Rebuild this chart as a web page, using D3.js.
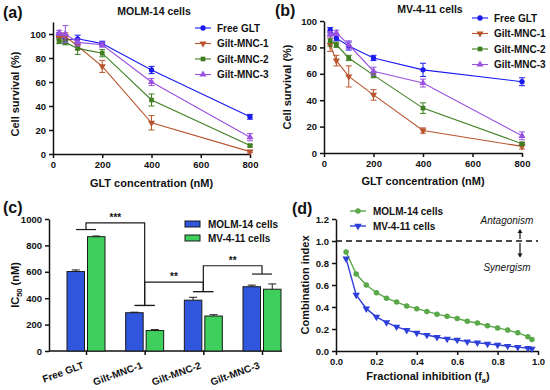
<!DOCTYPE html>
<html>
<head>
<meta charset="utf-8">
<script src="https://cdn.jsdelivr.net/npm/d3@7"></script>
<style>
  body { margin: 0; background: #fff; }
  svg text { font-family: "Liberation Sans", Arial, sans-serif; font-weight: bold; fill: #111; }
</style>
</head>
<body>
<svg id="chart" width="550" height="390"></svg>
<script>
// ---- data ----
const conc = [25, 50, 100, 200, 400, 800];
const seriesNames = ["Free GLT", "Gilt-MNC-1", "Gilt-MNC-2", "Gilt-MNC-3"];
const seriesColors = ["#1a1aee", "#b8552e", "#3f7f22", "#9a52e0"];
const seriesShapes = [d3.symbolCircle, "tri-down", d3.symbolSquare, d3.symbolTriangle];

const molmSurvival = [
  [99, 95, 96, 92, 70, 31],
  [97, 98, 90, 73, 26, 2],
  [94, 93, 88, 84, 45, 7],
  [101, 100, 93, 91, 60, 14]
];
const molmErr = [
  [2, 3, 3, 2, 3, 2],
  [2, 3, 3, 5, 6, 1],
  [2, 2, 5, 3, 5, 1],
  [2, 7, 3, 2, 3, 3]
];
const mvSurvival = [
  [93, 87, 81, 72, 63, 54],
  [82, 70, 58, 44, 17, 5],
  [85, 82, 72, 59, 34, 7],
  [90, 91, 82, 62, 53, 13]
];
const mvErr = [
  [2, 2, 3, 2, 5, 3],
  [5, 4, 8, 4, 2, 2],
  [4, 2, 2, 2, 4, 1],
  [2, 2, 3, 3, 3, 3]
];

const icGroups = ["Free GLT", "Gilt-MNC-1", "Gilt-MNC-2", "Gilt-MNC-3"];
const icMolm = [602, 290, 385, 487];
const icMolmErr = [12, 4, 22, 12];
const icMv = [866, 155, 265, 468];
const icMvErr = [5, 7, 10, 40];

const fa = [0.05, 0.10, 0.15, 0.20, 0.25, 0.30, 0.35, 0.40, 0.45, 0.50,
            0.55, 0.60, 0.65, 0.70, 0.75, 0.80, 0.85, 0.90, 0.95, 0.97];
const ciMolm = [0.90, 0.70, 0.60, 0.53, 0.48, 0.445, 0.41, 0.385, 0.36, 0.335,
                0.315, 0.295, 0.27, 0.255, 0.23, 0.21, 0.19, 0.165, 0.13, 0.105];
const ciMv = [0.84, 0.51, 0.385, 0.31, 0.26, 0.22, 0.19, 0.165, 0.145, 0.125,
              0.11, 0.10, 0.085, 0.075, 0.065, 0.055, 0.045, 0.035, 0.025, 0.02];

const svg = d3.select("#chart");

function marker(g, shape, size, color, x, y) {
  if (shape === "tri-down") {
    g.append("path")
      .attr("d", d3.symbol(d3.symbolTriangle, size)())
      .attr("transform", "translate(" + x + "," + y + ") rotate(180)")
      .attr("fill", color);
  } else {
    g.append("path")
      .attr("d", d3.symbol(shape, size)())
      .attr("transform", "translate(" + x + "," + y + ")")
      .attr("fill", color);
  }
}

function styleAxis(g) {
  g.selectAll("path, line").attr("stroke", "#111").attr("stroke-width", 1.5);
  g.selectAll("text").style("font-size", "9.5px").attr("fill", "#111");
}

function panelLabel(text, x, y) {
  svg.append("text").attr("x", x).attr("y", y)
    .style("font-size", "16px").text(text);
}

// ---- survival panels (a) and (b) ----
function survivalPanel(opt) {
  const x = d3.scaleLinear().domain([0, 800]).range(opt.xr);
  const y = d3.scaleLinear().domain([0, opt.ymax]).range(opt.yr);
  const g = svg.append("g");

  g.append("g").attr("transform", "translate(0," + opt.yr[0] + ")")
    .call(d3.axisBottom(x).tickValues([0, 200, 400, 600, 800]).tickSize(4).tickSizeOuter(0))
    .call(styleAxis);
  g.append("g").attr("transform", "translate(" + opt.xr[0] + ",0)")
    .call(d3.axisLeft(y).tickValues([0, 20, 40, 60, 80, 100]).tickSize(4).tickSizeOuter(0))
    .call(styleAxis);

  const line = d3.line().x((d, i) => x(conc[i])).y(d => y(d));
  opt.data.forEach((vals, s) => {
    const col = seriesColors[s];
    g.append("path").datum(vals).attr("d", line)
      .attr("fill", "none").attr("stroke", col).attr("stroke-width", 1.1);
    vals.forEach((v, i) => {
      const e = opt.err[s][i];
      const cx = x(conc[i]);
      g.append("line").attr("x1", cx).attr("x2", cx)
        .attr("y1", y(v - e)).attr("y2", y(v + e)).attr("stroke", col).attr("stroke-width", 1);
      [v - e, v + e].forEach(w => {
        g.append("line").attr("x1", cx - 3).attr("x2", cx + 3)
          .attr("y1", y(w)).attr("y2", y(w)).attr("stroke", col).attr("stroke-width", 1);
      });
      marker(g, seriesShapes[s], 22, col, cx, y(v));
    });
  });

  g.append("text").attr("x", opt.title[0]).attr("y", opt.title[1])
    .attr("text-anchor", "middle").style("font-size", "10.5px").text(opt.titleText);
  g.append("text").attr("x", (opt.xr[0] + opt.xr[1]) / 2).attr("y", opt.xlabY)
    .attr("text-anchor", "middle").style("font-size", "11px").text("GLT concentration (nM)");
  g.append("text")
    .attr("transform", "translate(" + opt.ylabX + "," + ((opt.yr[0] + y(100)) / 2) + ") rotate(-90)")
    .attr("text-anchor", "middle").style("font-size", "11px").text("Cell survival (%)");

  // legend
  seriesNames.forEach((name, s) => {
    const ly = opt.leg[1] + s * 15.5;
    g.append("line").attr("x1", opt.leg[0]).attr("x2", opt.leg[0] + 16)
      .attr("y1", ly).attr("y2", ly).attr("stroke", seriesColors[s]).attr("stroke-width", 1.1);
    marker(g, seriesShapes[s], 22, seriesColors[s], opt.leg[0] + 8, ly);
    g.append("text").attr("x", opt.leg[0] + 22).attr("y", ly + 3.5)
      .style("font-size", "10px").text(name);
  });
}

survivalPanel({
  xr: [53, 250], yr: [154, 22], ymax: 110,
  data: molmSurvival, err: molmErr,
  titleText: "MOLM-14 cells", title: [154, 15],
  xlabY: 187, ylabX: 19, leg: [195, 28]
});
survivalPanel({
  xr: [324, 522], yr: [153, 21], ymax: 100,
  data: mvSurvival, err: mvErr,
  titleText: "MV-4-11 cells", title: [430, 13],
  xlabY: 185, ylabX: 291, leg: [472, 18]
});
panelLabel("(a)", 3, 18);
panelLabel("(b)", 275, 16);

// ---- panel (c) IC50 bars ----
(function () {
  const x = d3.scalePoint().domain(icGroups).range([86, 262]);
  const y = d3.scaleLinear().domain([0, 1000]).range([351, 219]);
  const g = svg.append("g");
  const bw = 17.5;

  g.append("line").attr("x1", 49).attr("x2", 282).attr("y1", 351).attr("y2", 351)
    .attr("stroke", "#111").attr("stroke-width", 1.5);
  const xa = g.append("g").attr("transform", "translate(0,351)")
    .call(d3.axisBottom(x).tickSize(4).tickSizeOuter(0))
    .call(styleAxis);
  xa.select(".domain").remove();
  xa.selectAll("text")
    .attr("text-anchor", "end")
    .attr("y", 0).attr("dy", 0)
    .attr("transform", "translate(-2,17) rotate(-20)")
    .style("font-size", "10px");

  g.append("g").attr("transform", "translate(49,0)")
    .call(d3.axisLeft(y).tickValues([0, 200, 400, 600, 800, 1000]).tickFormat(d3.format("d")).tickSize(4).tickSizeOuter(0))
    .call(styleAxis);

  const sets = [
    { vals: icMolm, err: icMolmErr, fill: "#2f56dc", off: -bw - 1.5 },
    { vals: icMv, err: icMvErr, fill: "#3ecf5c", off: 1.5 }
  ];
  sets.forEach(set => {
    icGroups.forEach((grp, i) => {
      const x0 = x(grp) + set.off;
      const v = set.vals[i], e = set.err[i];
      g.append("rect").attr("x", x0).attr("y", y(v))
        .attr("width", bw).attr("height", y(0) - y(v))
        .attr("fill", set.fill).attr("stroke", "#1a1a1a").attr("stroke-width", 1);
      const cx = x0 + bw / 2;
      g.append("line").attr("x1", cx).attr("x2", cx).attr("y1", y(v)).attr("y2", y(v + e))
        .attr("stroke", "#1a1a1a").attr("stroke-width", 1);
      g.append("line").attr("x1", cx - 4).attr("x2", cx + 4).attr("y1", y(v + e)).attr("y2", y(v + e))
        .attr("stroke", "#1a1a1a").attr("stroke-width", 1);
    });
  });

  // significance brackets
  const brackets = [
    { a: 0, b: 1, capA: 920, capB: 345, top: 970, label: "***" },
    { a: 1, b: 2, capA: 345, capB: 450, top: 522, label: "**" },
    { a: 2, b: 3, capA: 450, capB: 583, top: 646, label: "**" }
  ];
  brackets.forEach(br => {
    const xa0 = x(icGroups[br.a]), xb0 = x(icGroups[br.b]);
    g.append("path")
      .attr("d", "M" + xa0 + "," + y(br.capA) + "V" + y(br.top) + "H" + xb0 + "V" + y(br.capB))
      .attr("fill", "none").attr("stroke", "#1a1a1a").attr("stroke-width", 1.2);
    [[br.a, br.capA], [br.b, br.capB]].forEach(c => {
      const cx = x(icGroups[c[0]]);
      g.append("line").attr("x1", cx - 10).attr("x2", cx + 10)
        .attr("y1", y(c[1])).attr("y2", y(c[1]))
        .attr("stroke", "#1a1a1a").attr("stroke-width", 1.2);
    });
    g.append("text").attr("x", (xa0 + xb0) / 2).attr("y", y(br.top) - 2)
      .attr("text-anchor", "middle").style("font-size", "10px").text(br.label);
  });

  // legend
  [["MOLM-14 cells", "#2f56dc"], ["MV-4-11 cells", "#3ecf5c"]].forEach((d, i) => {
    const ly = 224 + i * 14;
    g.append("rect").attr("x", 185).attr("y", ly - 3).attr("width", 15).attr("height", 6)
      .attr("fill", d[1]).attr("stroke", "#1a1a1a").attr("stroke-width", 1);
    g.append("text").attr("x", 208).attr("y", ly + 4).style("font-size", "10px").text(d[0]);
  });

  const yl = g.append("text")
    .attr("transform", "translate(19," + y(500) + ") rotate(-90)")
    .attr("text-anchor", "middle").style("font-size", "11px");
  yl.append("tspan").text("IC");
  yl.append("tspan").attr("dy", 3).style("font-size", "7.5px").text("50");
  yl.append("tspan").attr("dy", -3).text(" (nM)");
})();
panelLabel("(c)", 3, 213);

// ---- panel (d) combination index ----
(function () {
  const x = d3.scaleLinear().domain([0, 1]).range([336, 538]);
  const y = d3.scaleLinear().domain([0, 1.2]).range([351, 219]);
  const g = svg.append("g");

  g.append("g").attr("transform", "translate(0,351)")
    .call(d3.axisBottom(x).tickValues([0, 0.2, 0.4, 0.6, 0.8, 1.0]).tickFormat(d3.format(".1f")).tickSize(4).tickSizeOuter(0))
    .call(styleAxis);
  g.append("g").attr("transform", "translate(336,0)")
    .call(d3.axisLeft(y).tickValues([0, 0.2, 0.4, 0.6, 0.8, 1.0, 1.2]).tickFormat(d3.format(".1f")).tickSize(4).tickSizeOuter(0))
    .call(styleAxis);

  g.append("line").attr("x1", x(0)).attr("x2", x(1)).attr("y1", y(1)).attr("y2", y(1))
    .attr("stroke", "#111").attr("stroke-width", 1.5).attr("stroke-dasharray", "6,4");

  const ciSets = [
    { vals: ciMolm, color: "#5aa84a", shape: d3.symbolCircle, name: "MOLM-14 cells" },
    { vals: ciMv, color: "#2e3fd8", shape: "tri-down", name: "MV-4-11 cells" }
  ];
  const line = d3.line().x((d, i) => x(fa[i])).y(d => y(d));
  ciSets.forEach((set, k) => {
    g.append("path").datum(set.vals).attr("d", line)
      .attr("fill", "none").attr("stroke", set.color).attr("stroke-width", 1.4);
    set.vals.forEach((v, i) => marker(g, set.shape, 24, set.color, x(fa[i]), y(v)));
    const ly = 211 + k * 15;
    g.append("line").attr("x1", 350).attr("x2", 366).attr("y1", ly).attr("y2", ly)
      .attr("stroke", set.color).attr("stroke-width", 1.4);
    marker(g, set.shape, 24, set.color, 358, ly);
    g.append("text").attr("x", 373).attr("y", ly + 3.5).style("font-size", "10px").text(set.name);
  });

  // antagonism / synergism
  const ax = 520;
  g.append("line").attr("x1", ax).attr("x2", ax).attr("y1", y(1.0) - 2).attr("y2", y(1.1))
    .attr("stroke", "#111").attr("stroke-width", 1.2);
  g.append("path").attr("d", "M" + (ax - 2.5) + "," + (y(1.1) + 3) + "L" + ax + "," + (y(1.1) - 1) + "L" + (ax + 2.5) + "," + (y(1.1) + 3) + "Z")
    .attr("fill", "#111");
  g.append("line").attr("x1", ax).attr("x2", ax).attr("y1", y(1.0) + 2).attr("y2", y(0.86))
    .attr("stroke", "#111").attr("stroke-width", 1.2);
  g.append("path").attr("d", "M" + (ax - 2.5) + "," + (y(0.86) - 3) + "L" + ax + "," + (y(0.86) + 1) + "L" + (ax + 2.5) + "," + (y(0.86) - 3) + "Z")
    .attr("fill", "#111");
  g.append("text").attr("x", 507).attr("y", 224).attr("text-anchor", "middle")
    .style("font-size", "10px").style("font-style", "italic").style("font-weight", "normal").text("Antagonism");
  g.append("text").attr("x", 507).attr("y", 271).attr("text-anchor", "middle")
    .style("font-size", "10px").style("font-style", "italic").style("font-weight", "normal").text("Synergism");

  g.append("text")
    .attr("transform", "translate(309," + y(0.6) + ") rotate(-90)")
    .attr("text-anchor", "middle").style("font-size", "11px").text("Combination index");
  const xl = g.append("text").attr("x", 428).attr("y", 380)
    .attr("text-anchor", "middle").style("font-size", "11px");
  xl.append("tspan").text("Fractional inhibition (f");
  xl.append("tspan").attr("dy", 3).style("font-size", "7.5px").text("a");
  xl.append("tspan").attr("dy", -3).text(")");
})();
panelLabel("(d)", 292, 214);
</script>
</body>
</html>
